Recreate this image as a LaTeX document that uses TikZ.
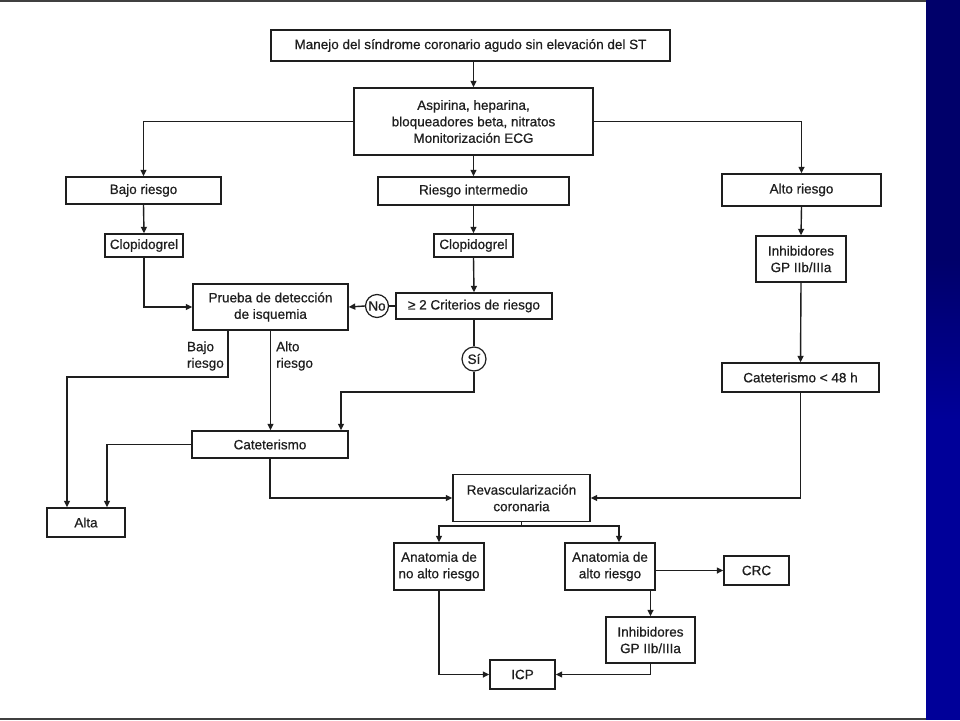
\documentclass[tikz,border=0pt]{standalone}
\usepackage{fontspec}
\setmainfont[FakeBold=0.6]{Liberation Sans}
\usetikzlibrary{arrows.meta,shapes.geometric}
\definecolor{linec}{HTML}{1E1E1E}
\definecolor{bardark}{HTML}{00006A}
\definecolor{barblue}{HTML}{000099}
\newcommand{\fs}{\fontsize{13.5}{16.5}\selectfont}
\tikzset{
  box/.style={draw=linec, line width=1.4pt, inner sep=0pt, align=center, font=\fs, text=linec},
  arr/.style={draw=linec, line width=1.4pt, -{Triangle[length=6.5pt,width=6pt]}},
  ln/.style={draw=linec, line width=1.4pt},
  circ/.style={draw=linec, line width=1.2pt, circle, inner sep=0pt, minimum size=23pt, font=\fs, text=linec},
  lbl/.style={inner sep=0pt, align=left, font=\fs, text=linec}
}
\begin{document}
\begin{tikzpicture}[x=1pt,y=-1pt]
\useasboundingbox (0,0) rectangle (960,720);
\fill[white] (0,0) rectangle (926,720);
% blue side bar
\fill[bardark] (926,0) rectangle (960,260);
\shade[top color=bardark, bottom color=barblue] (926,259) rectangle (960,420);
\fill[barblue] (926,419) rectangle (960,720);
% frame lines
\draw[line width=2pt, draw=black!75] (0,1) -- (926,1);
\draw[line width=2pt, draw=black!75] (0,718.5) -- (926,718.5);

% nodes
\node[box, minimum width=399pt, minimum height=31pt] (top) at (470.5,45.5) {Manejo del síndrome coronario agudo sin elevación del ST};
\node[box, minimum width=239pt, minimum height=67pt] (asp) at (473.5,121.5) {Aspirina, heparina,\\bloqueadores beta, nitratos\\Monitorización ECG};
\node[box, minimum width=155pt, minimum height=27pt] (bajo) at (143.5,190.5) {Bajo riesgo};
\node[box, minimum width=191pt, minimum height=28pt] (ri) at (473.5,191) {Riesgo intermedio};
\node[box, minimum width=159pt, minimum height=32pt] (alto) at (801.5,190) {Alto riesgo};
\node[box, minimum width=78pt, minimum height=23pt] (clo1) at (144,245.5) {Clopidogrel};
\node[box, minimum width=79pt, minimum height=23pt] (clo2) at (473.5,245.5) {Clopidogrel};
\node[box, minimum width=90pt, minimum height=46pt] (inh1) at (801,259) {Inhibidores\\GP IIb/IIIa};
\node[box, minimum width=155pt, minimum height=46pt] (prueba) at (270.5,307) {Prueba de detección\\de isquemia};
\node[box, minimum width=156pt, minimum height=26pt] (crit) at (474,306) {≥ 2 Criterios de riesgo};
\node[circ] (no) at (377,306) {No};
\node[circ, minimum size=24pt] (si) at (474,359) {Sí};
\node[box, minimum width=157pt, minimum height=29pt] (cat48) at (800.5,377.5) {Cateterismo < 48 h};
\node[box, minimum width=156pt, minimum height=27pt] (cat) at (270,444.5) {Cateterismo};
\node[box, minimum width=78pt, minimum height=29pt] (alta) at (86,522.5) {Alta};
\node[box, minimum width=137pt, minimum height=47pt] (revasc) at (521.5,498) {Revascularización\\coronaria};
\node[box, minimum width=90pt, minimum height=47pt] (anb) at (439,566.5) {Anatomia de\\no alto riesgo};
\node[box, minimum width=90pt, minimum height=47pt] (ana) at (610,566.5) {Anatomia de\\alto riesgo};
\node[box, minimum width=65pt, minimum height=29pt] (crc) at (756.5,570.5) {CRC};
\node[box, minimum width=89pt, minimum height=46pt] (inh2) at (650.5,640) {Inhibidores\\GP IIb/IIIa};
\node[box, minimum width=65pt, minimum height=29pt] (icp) at (522.5,674.5) {ICP};

\node[lbl, anchor=east] (lbajo) at (224,356) {Bajo\\riesgo};
\node[lbl, anchor=west] (lalto) at (276,356) {Alto\\riesgo};

% helper coordinates
\coordinate (pbl) at (228,330);
\coordinate (bl2) at (67,377);
\coordinate (si2) at (341,392);
\coordinate (cl2) at (107,445);
\coordinate (rb) at (521.5,526);

% connectors
\draw[arr] (asp.north |- top.south) -- (asp.north);
\draw[arr] (asp.west) -| (bajo.north);
\draw[arr] (asp.east) -| (alto.north);
\draw[arr] (asp.south) -- (ri.north);
\draw[arr] (bajo.south) -- (clo1.north);
\draw[arr] (clo1.south) |- (prueba.west);
\draw[arr] (ri.south) -- (clo2.north);
\draw[arr] (clo2.south) -- (crit.north);
\draw[ln] (crit.west) -- (no.east);
\draw[arr] (no.west) -- (prueba.east);
\draw[ln] (crit.south) -- (si.north);
\draw[arr] (si.south) |- (si2) -- (si2 |- cat.north);
\draw[arr] (pbl) |- (bl2) -- (bl2 |- alta.north);
\draw[arr] (prueba.south) -- (prueba.south |- cat.north);
\draw[arr] (cat.west) -| (cl2 |- alta.north);
\draw[arr] (cat.south) |- (revasc.west);
\draw[arr] (alto.south) -- (inh1.north);
\draw[arr] (inh1.south) -- (cat48.north);
\draw[arr] (cat48.south) |- (revasc.east);
\draw[ln] (revasc.south) -- (rb);
\draw[arr] (rb) -| (anb.north);
\draw[arr] (rb) -| ([xshift=9pt]ana.north);
\draw[arr] (ana.east |- crc.west) -- (crc.west);
\draw[arr] (inh2.north |- ana.south) -- (inh2.north);
\draw[arr] (inh2.south) |- (icp.east);
\draw[arr] (anb.south) |- (icp.west);
\end{tikzpicture}
\end{document}
